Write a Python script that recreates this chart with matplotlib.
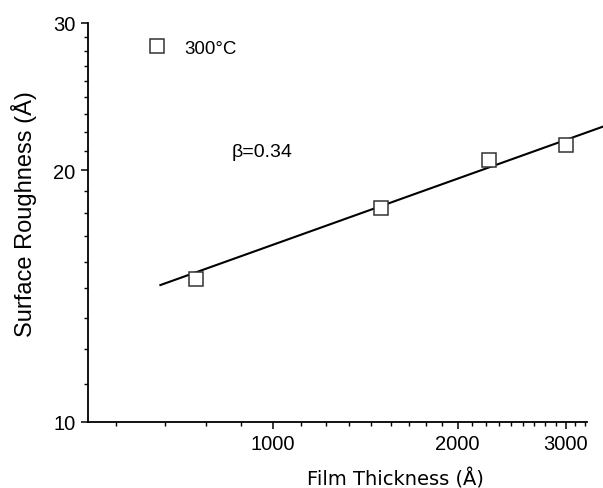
import matplotlib
matplotlib.use("Agg")
import matplotlib.pyplot as plt
from matplotlib.ticker import MultipleLocator, FuncFormatter, NullFormatter

# Surface roughness vs. film thickness at 300 °C
thickness = [750, 1500, 2250, 3000]          # Å
roughness = [14.82, 18.04, 20.55, 21.47]     # Å

# Power-law fit drawn as a straight line on log-log axes
fit_thickness = [656, 3460]
fit_roughness = [14.58, 22.57]

series_label = "300\u00b0C"
beta_label = "\u03b2=0.34"
x_ticks = [1000, 2000, 3000]
y_ticks = [10, 20, 30]

fig = plt.figure(figsize=(6.03, 4.89), dpi=100)
ax = fig.add_axes([88 / 603, 1 - 423 / 489, 499 / 603, 399 / 489])

ax.set_xscale("log")
ax.set_yscale("log")
ax.set_xlim(500, 3250)
ax.set_ylim(10, 30)

ax.plot(fit_thickness, fit_roughness, color="black", lw=1.5, clip_on=False, zorder=2)
ax.plot(thickness, roughness, ls="none", marker="s", ms=9.5, mfc="white",
        mec="#333333", mew=1.1, label=series_label, zorder=3)

# Linear major/minor increments on the log axes
ax.xaxis.set_major_locator(MultipleLocator(1000))
ax.xaxis.set_minor_locator(MultipleLocator(1000 / 9))
ax.yaxis.set_major_locator(MultipleLocator(10))
ax.yaxis.set_minor_locator(MultipleLocator(10 / 9))
fmt = FuncFormatter(lambda v, p: f"{v:.0f}")
ax.xaxis.set_major_formatter(fmt)
ax.yaxis.set_major_formatter(fmt)
ax.xaxis.set_minor_formatter(NullFormatter())
ax.yaxis.set_minor_formatter(NullFormatter())

for s in ("top", "right"):
    ax.spines[s].set_visible(False)
for s in ("left", "bottom"):
    ax.spines[s].set_linewidth(1.3)

ax.tick_params(which="major", direction="out", length=5, width=1.1,
               labelsize=14.5, pad=4)
ax.tick_params(which="minor", direction="out", length=3, width=1.0)
for lab in ax.get_xticklabels() + ax.get_yticklabels():
    lab.set_family("Liberation Sans")

ax.set_ylabel("Surface Roughness (\u00c5)", family="Liberation Sans", fontsize=17)
ax.yaxis.label.set_va("baseline")
ax.yaxis.set_label_coords(-0.1116, 0.524)

ax.set_xlabel("Film Thickness (\u00c5)", family="DejaVu Sans", fontsize=14)
ax.xaxis.label.set_va("baseline")
ax.xaxis.set_label_coords(0.617, -0.1554)

ax.text(0.288, 0.6674, beta_label, transform=ax.transAxes, ha="left",
        va="baseline", fontsize=14, family="Liberation Sans")

leg = ax.legend(loc="center left", bbox_to_anchor=(147.3 / 603, 1 - 49 / 489),
                bbox_transform=fig.transFigure, frameon=False, borderpad=0,
                borderaxespad=0, handlelength=1.0, handletextpad=1.0,
                prop={"family": "Liberation Sans", "size": 13.5})

fig.savefig("out.png", dpi=100)
